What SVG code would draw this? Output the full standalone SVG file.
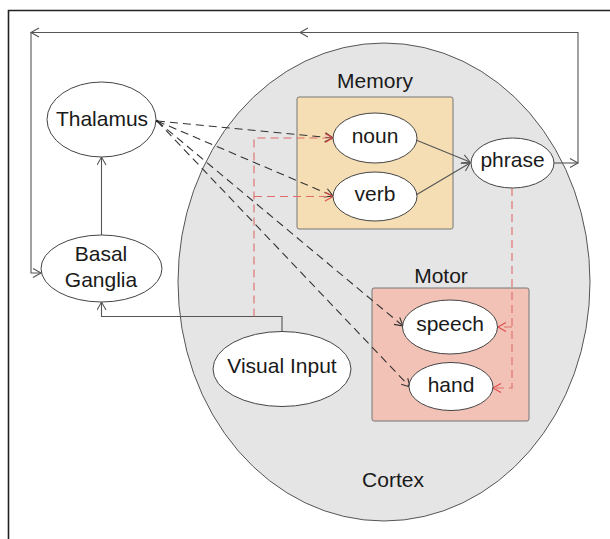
<svg xmlns="http://www.w3.org/2000/svg" width="610" height="539" viewBox="0 0 610 539">
  <style>
    .lbl { font-family: "Liberation Sans", Arial, sans-serif; font-size: 21px; fill: #1a1a1a; text-anchor: middle; }
    .node { fill: #ffffff; stroke: #444444; stroke-width: 1; }
    .solid { fill: none; stroke: #555555; stroke-width: 1.1; marker-end: url(#arrowGray); }
    .dash { fill: none; stroke: #333333; stroke-width: 1.1; stroke-dasharray: 8 5; marker-end: url(#arrowDark); }
    .red { fill: none; stroke: #e06c6c; stroke-width: 1.1; stroke-dasharray: 8 5; }
  </style>
  <defs>
    <marker id="arrowGray" markerUnits="userSpaceOnUse" markerWidth="12" markerHeight="12" refX="9" refY="5" orient="auto">
      <path d="M1,0.5 L9,5 L1,9.5" fill="none" stroke="#555555" stroke-width="1.1"/>
    </marker>
    <marker id="arrowDark" markerUnits="userSpaceOnUse" markerWidth="12" markerHeight="12" refX="9" refY="5" orient="auto">
      <path d="M1,0.5 L9,5 L1,9.5" fill="none" stroke="#333333" stroke-width="1.1"/>
    </marker>
    <marker id="arrowRed" markerUnits="userSpaceOnUse" markerWidth="12" markerHeight="12" refX="9" refY="5" orient="auto">
      <path d="M1,0.5 L9,5 L1,9.5" fill="none" stroke="#e04848" stroke-width="1.1"/>
    </marker>
  </defs>

  <rect width="610" height="539" fill="#ffffff"/>
  <!-- outer frame -->
  <path d="M8.5,539 V10.5 H610" fill="none" stroke="#222222" stroke-width="1.6"/>

  <!-- cortex region with its two areas -->
  <g id="cortex">
    <ellipse cx="384" cy="282" rx="206" ry="239" fill="#e5e5e5" stroke="#555555" stroke-width="1"/>
    <text class="lbl" x="393" y="487">Cortex</text>
  </g>
  <g id="memory">
    <rect x="297" y="97" width="156" height="132" rx="2" fill="#f5deb3" stroke="#777777" stroke-width="1"/>
    <text class="lbl" x="375" y="88">Memory</text>
  </g>
  <g id="motor">
    <rect x="372" y="288" width="157" height="133" rx="2" fill="#f2c2b6" stroke="#777777" stroke-width="1"/>
    <text class="lbl" x="441" y="283">Motor</text>
  </g>

  <!-- connectors -->
  <g id="connectors">
    <!-- feedback loop from phrase back to basal ganglia -->
    <path class="solid" d="M554,163 H578"/>
    <path class="solid" d="M578,163 V32.5 H300"/>
    <path class="solid" d="M300,32.5 H31"/>
    <path class="solid" d="M31,32.5 V273 H41"/>
    <!-- basal ganglia to thalamus -->
    <path class="solid" d="M101.5,235 V157"/>
    <!-- visual input to basal ganglia -->
    <path class="solid" d="M282,331.5 V316.5 H101.5 V302"/>
    <!-- memory to phrase -->
    <path class="solid" d="M416,140 L470,162"/>
    <path class="solid" d="M416,195 L470,163"/>
    <!-- thalamus fan-out -->
    <path class="dash" d="M157,121 L333,138"/>
    <path class="dash" d="M157,121 L333,196"/>
    <path class="dash" d="M157,121 L403,326"/>
    <path class="dash" d="M157,121 L410,387"/>
    <!-- visual input to memory -->
    <path class="red" d="M254,316.5 V138 H333" marker-end="url(#arrowRed)"/>
    <path class="red" d="M254,196.5 H333" marker-end="url(#arrowRed)"/>
    <!-- phrase to motor -->
    <path class="red" d="M512,188 V388 H493" marker-end="url(#arrowRed)"/>
    <path class="red" d="M512,327 H498" marker-end="url(#arrowRed)"/>
    <circle cx="157" cy="121" r="1.3" fill="#222222"/>
  </g>

  <!-- nodes -->
  <g id="thalamus">
    <ellipse class="node" cx="101.5" cy="119.5" rx="54.5" ry="37.5"/>
    <text class="lbl" x="102" y="126">Thalamus</text>
  </g>
  <g id="basal-ganglia">
    <ellipse class="node" cx="101.5" cy="268.5" rx="60.5" ry="33.5"/>
    <text class="lbl" x="101" y="261">Basal</text>
    <text class="lbl" x="101" y="287">Ganglia</text>
  </g>
  <g id="visual-input">
    <ellipse class="node" cx="282" cy="369" rx="69" ry="37.5"/>
    <text class="lbl" x="282" y="373">Visual Input</text>
  </g>
  <g id="noun">
    <ellipse class="node" cx="375" cy="138" rx="42" ry="25"/>
    <text class="lbl" x="375" y="143">noun</text>
  </g>
  <g id="verb">
    <ellipse class="node" cx="375" cy="196.5" rx="42" ry="24.5"/>
    <text class="lbl" x="375" y="201">verb</text>
  </g>
  <g id="phrase">
    <ellipse class="node" cx="512.5" cy="163" rx="41.5" ry="25"/>
    <text class="lbl" x="512.5" y="167">phrase</text>
  </g>
  <g id="speech">
    <ellipse class="node" cx="450" cy="327" rx="47.5" ry="27"/>
    <text class="lbl" x="450" y="331">speech</text>
  </g>
  <g id="hand">
    <ellipse class="node" cx="451" cy="386.5" rx="42" ry="24"/>
    <text class="lbl" x="451" y="392">hand</text>
  </g>
</svg>
